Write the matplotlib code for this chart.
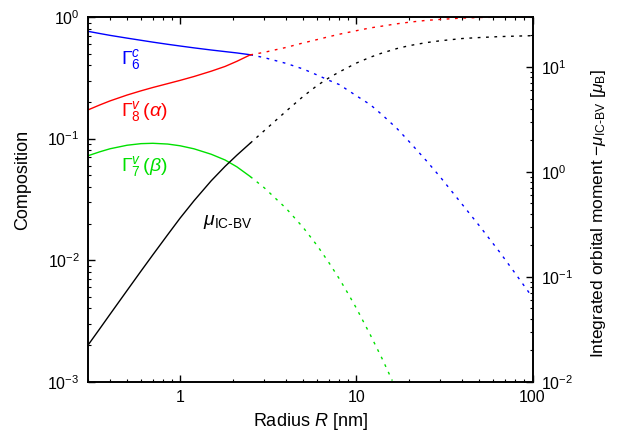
import numpy as np
import matplotlib
matplotlib.use("Agg")
import matplotlib.pyplot as plt
from matplotlib.ticker import LogLocator, FixedLocator, FixedFormatter, NullFormatter

plt.rcParams['font.family'] = ['Liberation Sans', 'DejaVu Sans']
plt.rcParams['mathtext.fontset'] = 'custom'
plt.rcParams['mathtext.rm'] = 'Liberation Sans'
plt.rcParams['mathtext.it'] = 'Liberation Sans:italic'
plt.rcParams['mathtext.bf'] = 'Liberation Sans:bold'

# ---------------- data ----------------
# solid part (R <= 2.5 nm)
R_solid = [0.3, 0.35, 0.4, 0.5, 0.6, 0.7, 0.85, 1.0, 1.2, 1.5, 1.8, 2.1, 2.5]
gamma6_solid = [0.762, 0.731, 0.706, 0.670, 0.643, 0.621, 0.596, 0.577,
                0.557, 0.535, 0.519, 0.506, 0.489]
gamma8_solid = [0.172, 0.189, 0.204, 0.228, 0.247, 0.263, 0.283, 0.301,
                0.324, 0.358, 0.392, 0.432, 0.488]
gamma7_solid = [0.0722, 0.0778, 0.0824, 0.0881, 0.0908, 0.0914, 0.0901, 0.0872,
                0.0823, 0.0743, 0.0666, 0.0585, 0.0487]
mu_solid = [0.0223, 0.032, 0.0439, 0.0741, 0.1135, 0.162, 0.252, 0.363,
            0.532, 0.822, 1.13, 1.445, 1.88]

# dotted part (R >= 2.5 nm)
R_dot = [2.5, 3, 4, 5, 6, 7, 8, 10, 12, 14, 17, 20, 25, 30, 40, 50, 65, 80, 100]
gamma6_dot = [0.489, 0.463, 0.415, 0.373, 0.333, 0.301, 0.278, 0.225, 0.19, 0.157,
              0.121, 0.094, 0.0656, 0.0481, 0.0286, 0.0191, 0.01167, 0.00773, 0.00493]
gamma8_dot = [0.488, 0.512, 0.562, 0.612, 0.652, 0.689, 0.721, 0.771, 0.813, 0.841,
              0.879, 0.906, 0.938, 0.955, 0.98, 0.99, 0.996, 0.999, 1.0]
mu_dot = [1.88, 2.47, 3.80, 5.26, 6.67, 7.9, 8.97, 10.9, 12.4, 13.6,
          15.0, 16.0, 17.1, 17.8, 18.7, 19.1, 19.5, 19.7, 19.9]

R_green_dot = [2.5, 3.0, 4.0, 5.0, 6.0, 7.0, 8.0, 9.0, 10.0, 12.0, 14.0, 16.0]
gamma7_dot = [0.0487, 0.0394, 0.0266, 0.0185, 0.01315, 0.0095, 0.00703, 0.00527,
              0.00403, 0.00243, 0.00155, 0.00102]

x_ticks = [1, 10, 100]
x_ticklabels = ["1", "10", "100"]

BLUE = "#0000ff"
RED = "#ff0000"
GREEN = "#00e000"
BLACK = "#000000"

fig = plt.figure(figsize=(6.18, 4.41), dpi=100)
ax = fig.add_axes([0.1424, 0.1345, 0.8617 - 0.1424, 0.9615 - 0.1345])
ax2 = ax.twinx()

lw = 1.0
dot = (0, (2.0, 4.0))
ax.plot(R_solid, gamma6_solid, color=BLUE, lw=lw)
ax.plot(R_dot, gamma6_dot, color=BLUE, lw=lw, linestyle=dot)
ax.plot(R_solid, gamma8_solid, color=RED, lw=lw)
ax.plot(R_dot, gamma8_dot, color=RED, lw=lw, linestyle=dot)
ax.plot(R_solid, gamma7_solid, color=GREEN, lw=lw)
ax.plot(R_green_dot, gamma7_dot, color=GREEN, lw=lw, linestyle=dot)
ax2.plot(R_solid, mu_solid, color=BLACK, lw=lw)
ax2.plot(R_dot, mu_dot, color=BLACK, lw=lw, linestyle=dot)

ax.set_xscale("log")
ax.set_yscale("log")
ax2.set_yscale("log")
ax.set_xlim(0.3, 100)
ax.set_ylim(1e-3, 1)
ax2.set_ylim(1e-2, 30)

ax.xaxis.set_major_locator(FixedLocator(x_ticks))
ax.xaxis.set_major_formatter(FixedFormatter(x_ticklabels))
ax.xaxis.set_minor_locator(LogLocator(base=10, subs=np.arange(2, 10)))
ax.xaxis.set_minor_formatter(NullFormatter())
for a in (ax, ax2):
    a.yaxis.set_minor_locator(LogLocator(base=10, subs=np.arange(2, 10), numticks=20))
    a.yaxis.set_minor_formatter(NullFormatter())

ax.tick_params(axis="x", which="both", direction="in", top=True, bottom=True,
               labelsize=11.5, pad=6)
ax.tick_params(axis="y", which="both", direction="in", left=True, right=False,
               labelsize=11.5, pad=6)
ax2.tick_params(axis="y", which="both", direction="in", right=True, left=False,
                labelsize=11.5, pad=6)
for a in (ax, ax2):
    a.tick_params(which="major", length=5, width=1)
    a.tick_params(which="minor", length=2.5, width=0.8)

for s in ax.spines.values():
    s.set_linewidth(1.2)
for s in ax2.spines.values():
    s.set_linewidth(1.2)

ax.set_xlabel(r"Radius $R$ [nm]", fontsize=13, labelpad=4)
ax.set_ylabel("Composition", fontsize=13)
ax.yaxis.set_label_coords(-0.128, 0.553)
ax2.set_ylabel(r"Integrated orbital moment $-\mu_{\text{IC-BV}}$ [$\mu_{\text{B}}$]",
               fontsize=12.5)
ax2.yaxis.set_label_coords(1.128, 0.46)

ax.text(0.46, 0.443, r"$\Gamma_6^c$", color=BLUE, fontsize=14, va="center", ha="left")
ax.text(0.46, 0.166, r"$\Gamma_8^v\,(\alpha)$", color=RED, fontsize=14, va="center", ha="left")
ax.text(0.46, 0.0588, r"$\Gamma_7^v\,(\beta)$", color=GREEN, fontsize=14, va="center", ha="left")
ax.text(1.34, 0.0207, r"$\mu_{\text{IC-BV}}$", color=BLACK, fontsize=14, va="center", ha="left")

fig.savefig("out.png", dpi=100)
